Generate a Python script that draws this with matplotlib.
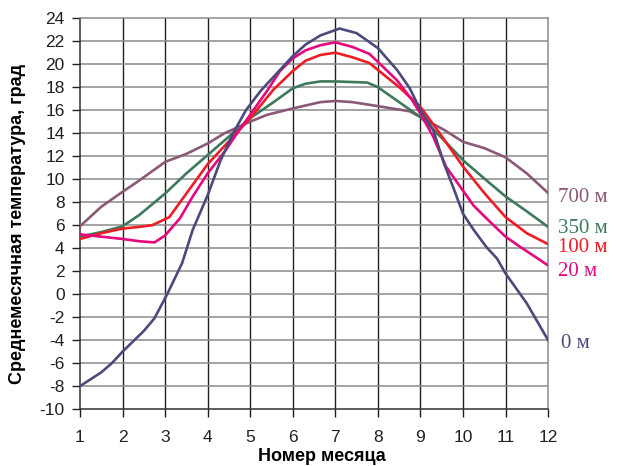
import matplotlib
matplotlib.use("Agg")
import matplotlib.pyplot as plt

plt.rcParams["axes.unicode_minus"] = False

##### data: month positions and temperatures for each depth #####
m_0 = [1, 1.5, 1.75, 2, 2.5, 2.75, 3.05, 3.4, 3.65, 4, 4.3, 4.6, 4.9, 5.25, 5.7, 6, 6.3, 6.65,
       7.1, 7.5, 8, 8.45, 8.75, 9, 9.3, 9.55, 9.8, 10, 10.25, 10.55, 10.8, 11, 11.5, 12]
t_0 = [-8.0, -6.8, -6.0, -5.0, -3.2, -2.1, 0.0, 2.7, 5.6, 8.6, 11.6, 14.0, 16.0, 17.7, 19.5, 20.7, 21.7, 22.5,
       23.1, 22.7, 21.4, 19.5, 17.9, 16.0, 14.3, 11.4, 9.0, 7.0, 5.6, 4.1, 3.1, 1.8, -0.8, -4.0]

m_20 = [1, 1.5, 2, 2.4, 2.75, 3, 3.35, 3.65, 4, 4.4, 4.75, 5, 5.4, 5.7, 6, 6.3, 6.65, 7, 7.4, 7.8,
        8, 8.45, 8.8, 9, 9.3, 9.6, 10, 10.25, 10.55, 11, 11.35, 12]
t_20 = [5.2, 5.0, 4.8, 4.6, 4.5, 5.1, 6.6, 8.5, 10.5, 12.4, 14.3, 15.6, 17.7, 19.4, 20.5, 21.2, 21.65, 21.9, 21.5, 20.9,
        20.2, 18.6, 16.9, 15.7, 13.7, 11.1, 9.0, 7.7, 6.6, 5.0, 4.1, 2.5]

m_100 = [1, 1.5, 2, 2.4, 2.7, 3.1, 3.5, 4, 4.45, 5, 5.55, 6, 6.3, 6.65, 7, 7.4, 7.8, 8, 8.5,
         9, 9.45, 10, 10.5, 11, 11.5, 12]
t_100 = [4.8, 5.3, 5.7, 5.85, 6.0, 6.7, 8.75, 11.3, 13.1, 15.3, 17.8, 19.4, 20.3, 20.8, 21.0, 20.6, 20.1, 19.5, 18.0,
         16.3, 14.0, 11.1, 8.8, 6.7, 5.3, 4.35]

m_350 = [1, 1.5, 2, 2.4, 3, 3.5, 4, 4.5, 5, 5.55, 6, 6.3, 6.65, 7, 7.75, 8, 8.5, 9, 9.55,
         10, 10.55, 11, 11.5, 12]
t_350 = [5.0, 5.4, 5.9, 6.9, 8.75, 10.5, 12.1, 13.7, 15.3, 16.7, 17.9, 18.3, 18.5, 18.5, 18.4, 18.0, 16.7, 15.4, 13.4,
         11.65, 9.9, 8.5, 7.2, 5.85]

m_700 = [1, 1.5, 2, 2.4, 3, 3.5, 4, 4.4, 5, 5.4, 6, 6.65, 7, 7.4, 8, 8.75, 9, 9.55, 10, 10.5,
         11, 11.5, 12]
t_700 = [5.9, 7.6, 8.9, 9.9, 11.5, 12.2, 13.1, 14.0, 15.0, 15.6, 16.15, 16.7, 16.8, 16.7, 16.35, 15.9, 15.4, 14.3, 13.25, 12.7,
         11.9, 10.5, 8.8]

names = ["700 м", "350 м", "100 м", "20 м", "0 м"]
label_y = [8.4, 5.7, 4.1, 1.95, -4.25]
colors = ["#8c5878", "#3d7a5b", "#ee1c25", "#e5087e", "#4b4a7c"]

fig = plt.figure(figsize=(6.2, 4.66), dpi=100)
ax = fig.add_axes([0.129, 0.122, 0.755, 0.839])

# grid: vertical dark, horizontal grey
for x in range(2, 12):
    ax.axvline(x, color="#202020", lw=1.0, zorder=1)
for y in range(-8, 24, 2):
    ax.axhline(y, color="#8a8a8a", lw=1.1, zorder=1)

curves = [(m_700, t_700), (m_350, t_350), (m_100, t_100), (m_20, t_20), (m_0, t_0)]
for (mm, tt), name, col, ly in zip(curves, names, colors, label_y):
    ax.plot(mm, tt, color=col, lw=1.9, zorder=3, solid_joinstyle="round")
    ax.text(12.23 if name != "0 м" else 12.3, ly, name, color=col, fontsize=15,
            family="Liberation Serif", va="center", ha="left", clip_on=False)

ax.set_xlim(1, 12)
ax.set_ylim(-10, 24)
ax.set_xticks(range(1, 13))
ax.set_yticks(range(-10, 25, 2))

ax.spines["left"].set_color("#303030")
ax.spines["bottom"].set_color("#303030")
ax.spines["top"].set_color("#8a8a8a")
ax.spines["right"].set_color("#8a8a8a")
for s in ax.spines.values():
    s.set_linewidth(1.1)

ax.tick_params(axis="both", direction="out", length=6, width=1, labelsize=12.5, colors="#202020")
for lbl in ax.get_xticklabels() + ax.get_yticklabels():
    lbl.set_family("Liberation Sans")
ax.tick_params(axis="x", pad=9)
ax.tick_params(axis="y", pad=5)

# axis titles placed as figure text
fig.text(322 / 620, 1 - 461 / 466, "Номер месяца", fontsize=13, fontweight="bold",
         family="Liberation Sans", ha="center", va="baseline")
fig.text(18 / 620, 1 - 224 / 466, "Среднемесячная температура, град", fontsize=13,
         fontweight="bold", family="Liberation Sans", rotation=90, ha="center", va="center")

fig.savefig("out.png", dpi=100)
